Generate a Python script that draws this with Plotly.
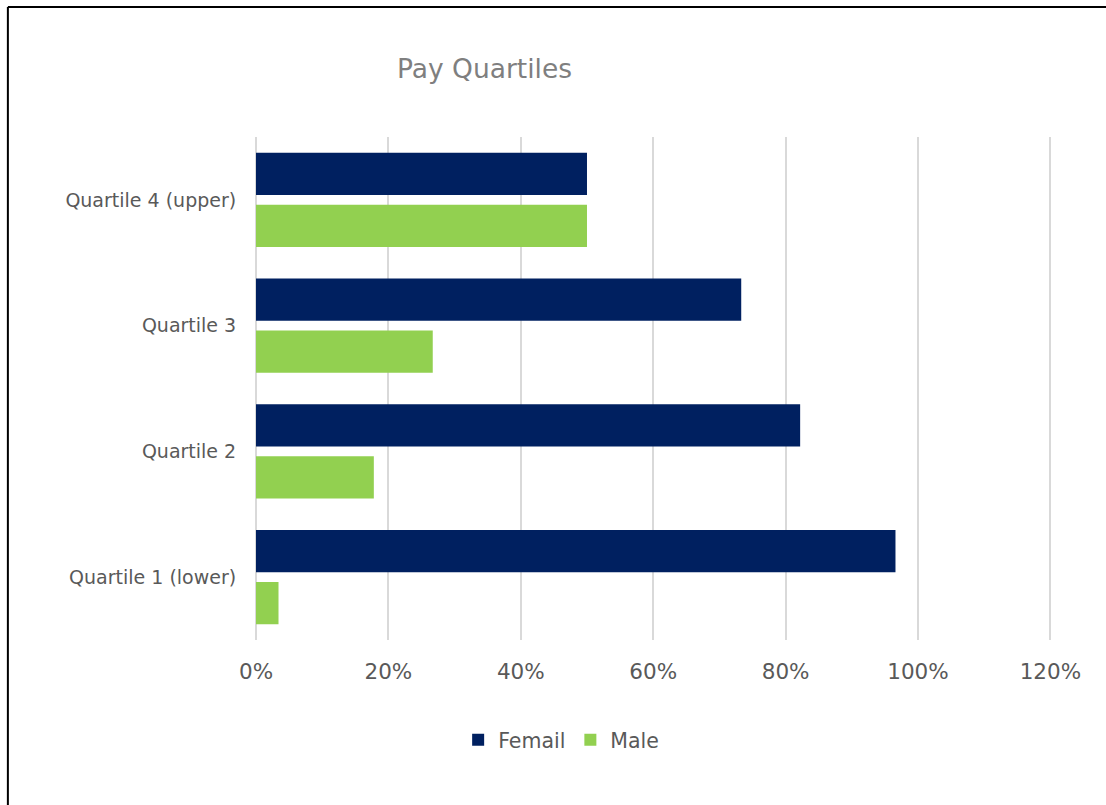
import plotly.graph_objects as go

categories = ["Quartile 1 (lower)", "Quartile 2", "Quartile 3", "Quartile 4 (upper)"]
femail = [96.6, 82.2, 73.3, 50.0]
male = [3.4, 17.8, 26.7, 50.0]
x_ticks = [0, 20, 40, 60, 80, 100, 120]

W, H = 1106, 805
X_MAX = 121
ML, MT, MB = 256, 137, 165
pw = 794 * X_MAX / 120
MR = W - ML - pw
ph = H - MT - MB

FONT = "DejaVu Sans"
fig = go.Figure()
fig.add_trace(go.Bar(y=categories, x=male, name="Male", orientation="h",
                     marker=dict(color="#92D050", line=dict(width=0)), legendrank=2))
fig.add_trace(go.Bar(y=categories, x=femail, name="Femail", orientation="h",
                     marker=dict(color="#002060", line=dict(width=0)), legendrank=1))

# frame lines (left and top) of the chart area
fx = (8 - ML) / pw
fy = (H - MB - 7) / ph
fig.add_shape(type="line", xref="paper", yref="paper", x0=fx, x1=(W - ML) / pw + 0.1,
              y0=fy, y1=fy, line=dict(color="black", width=2))
fig.add_shape(type="line", xref="paper", yref="paper", x0=fx, x1=fx,
              y0=fy, y1=-(MB + 10) / ph, line=dict(color="black", width=2))

fig.update_layout(
    width=W, height=H,
    margin=dict(l=ML, r=MR, t=MT, b=MB, pad=0),
    paper_bgcolor="white", plot_bgcolor="white",
    barmode="group", bargap=0.173, bargroupgap=0.192,
    title=dict(text="Pay Quartiles", x=484.5 / W, xref="container", xanchor="center",
               y=1 - 69 / H, yref="container", yanchor="middle",
               font=dict(family=FONT, size=26.5, color="#7f7f7f")),
    xaxis=dict(range=[0, X_MAX], tickvals=x_ticks, ticktext=[f"{v}%" for v in x_ticks],
               showgrid=True, gridcolor="#d9d9d9", gridwidth=2,
               zeroline=True, zerolinecolor="#d9d9d9", zerolinewidth=2,
               showline=False, ticks="outside", ticklen=12, tickcolor="rgba(0,0,0,0)",
               tickfont=dict(family=FONT, size=21.5, color="#595959"), fixedrange=True),
    yaxis=dict(showgrid=False, zeroline=False, showline=False,
               ticks="outside", ticklen=15, tickcolor="rgba(0,0,0,0)",
               tickfont=dict(family=FONT, size=19, color="#595959"), fixedrange=True),
    legend=dict(orientation="h", x=(561 - ML) / pw, xanchor="center",
                y=-(740 - (H - MB)) / ph, yanchor="middle",
                font=dict(family=FONT, size=20.5, color="#595959"),
                traceorder="normal"),
    showlegend=True,
)

fig.write_html("out.html", config={"displayModeBar": False})
